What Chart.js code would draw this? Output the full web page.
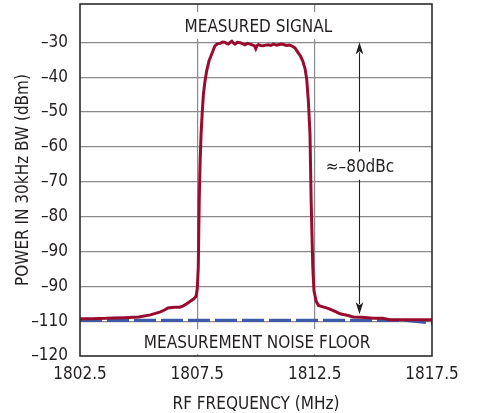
<!DOCTYPE html>
<html>
<head>
<meta charset="utf-8">
<script src="https://cdn.jsdelivr.net/npm/chart.js@4/dist/chart.umd.min.js"></script>
<style>
  html, body { margin: 0; padding: 0; background: #fff; }
  canvas { display: block; }
</style>
</head>
<body>
<canvas id="spectrum" width="477" height="413"></canvas>
<script>
// RF frequency (MHz) and measured power (dBm in 30kHz BW) of the signal
const signalFreq = [
  1802.5, 1803.0, 1803.6, 1803.9, 1804.4, 1805.0, 1805.5, 1805.9, 1806.1, 1806.25,
  1806.5, 1806.75, 1806.9, 1807.05, 1807.2, 1807.35, 1807.45, 1807.5, 1807.54, 1807.58,
  1807.62, 1807.66, 1807.71, 1807.76, 1807.83, 1807.9, 1808.0, 1808.11, 1808.25, 1808.36,
  1808.47, 1808.58, 1808.68, 1808.75, 1808.82, 1808.9, 1808.97, 1809.04, 1809.11, 1809.2,
  1809.32, 1809.42, 1809.53, 1809.64, 1809.75, 1809.86, 1809.94, 1809.99, 1810.04, 1810.1,
  1810.2, 1810.31, 1810.42, 1810.53, 1810.63, 1810.74, 1810.88, 1811.0, 1811.1, 1811.2,
  1811.31, 1811.42, 1811.52, 1811.66, 1811.8, 1811.9, 1812.0, 1812.09, 1812.16, 1812.23,
  1812.3, 1812.35, 1812.42, 1812.47, 1812.56, 1812.66, 1812.85, 1813.1, 1813.37, 1813.58,
  1813.88, 1814.15, 1814.5, 1815.0, 1815.4, 1815.7, 1816.5, 1817.5
];
const signalPower = [
  -109.3, -109.3, -109.2, -109.1, -109.0, -108.8, -108.2, -107.4, -106.8, -106.2,
  -106.0, -106.0, -105.6, -105.0, -104.3, -103.6, -102.8, -100.5, -94.5, -75.5,
  -64.0, -56.2, -50.0, -44.8, -41.0, -38.1, -35.3, -33.4, -31.0, -30.4,
  -30.3, -29.9, -30.0, -30.3, -30.5, -30.0, -29.7, -30.2, -30.5, -30.0,
  -30.1, -30.4, -30.7, -30.3, -30.5, -30.8, -31.0, -31.8, -31.0, -30.7,
  -30.9, -31.0, -30.8, -30.7, -30.9, -30.5, -30.8, -30.6, -30.5, -30.7,
  -30.9, -30.8, -31.0, -31.6, -33.0, -34.0, -35.5, -37.5, -40.5, -46.7,
  -56.2, -75.4, -94.5, -101.2, -104.2, -105.5, -105.9, -106.4, -107.2, -107.9,
  -108.3, -108.8, -108.9, -109.2, -109.2, -109.6, -109.6, -109.6
];

// Measurement noise floor of the analyzer
const floorFreq = [1802.5, 1816.4, 1817.5];
const floorPower = [-109.8, -109.8, -110.5];

// Axis ticks
const xTickValues = [1802.5, 1807.5, 1812.5, 1817.5];
const xTickLabels = ['1802.5', '1807.5', '1812.5', '1817.5'];
const yTickValues = [-120, -110, -100, -90, -80, -70, -60, -50, -40, -30];
const yTickLabels = ['–120', '–110', '–90', '–90', '–80', '–70', '–60', '–50', '–40', '–30'];

// Dynamic-range arrow: from the in-band level down to the close-in floor
const rangeArrowFreq = 1814.4;
const rangeArrowTop = -30;
const rangeArrowBottom = -108;

// Text notes placed in data units
const notes = [
  { text: 'MEASURED SIGNAL', x: 1810.1, y: -25.2, boxH: 27 },
  { text: 'MEASUREMENT NOISE FLOOR', x: 1810.05, y: -115.9, boxH: 25 },
  { text: '≈–80dBc', x: 1814.43, y: -65.4, boxH: 28 }
];

const FONT = "'DejaVu Sans Condensed', 'Liberation Sans Narrow', sans-serif";
const FONT_SIZE = 17;
const INK = '#231f20';

Chart.defaults.font.family = FONT;
Chart.defaults.font.size = FONT_SIZE;
Chart.defaults.color = INK;

const toPoints = (xs, ys) => xs.map((x, i) => ({ x, y: ys[i] }));

// Frame, arrow and text boxes drawn over the plot
const overlay = {
  id: 'overlay',
  afterDatasetsDraw(chart) {
    const { ctx, chartArea: a, scales: { x, y } } = chart;
    ctx.save();

    // plot frame
    ctx.strokeStyle = '#2b2b2b';
    ctx.lineWidth = 1.6;
    ctx.strokeRect(a.left, a.top, a.right - a.left, a.bottom - a.top);

    // double-headed arrow
    const ax = Math.round(x.getPixelForValue(rangeArrowFreq)) + 0.5;
    const ay1 = y.getPixelForValue(rangeArrowTop);
    const ay2 = y.getPixelForValue(rangeArrowBottom);
    const headL = 12, headW = 3.8;
    ctx.strokeStyle = INK;
    ctx.fillStyle = INK;
    ctx.lineWidth = 1.1;
    ctx.beginPath();
    ctx.moveTo(ax, ay1 + headL - 2);
    ctx.lineTo(ax, ay2 - headL + 2);
    ctx.stroke();
    ctx.beginPath();
    ctx.moveTo(ax, ay1);
    ctx.lineTo(ax - headW, ay1 + headL);
    ctx.lineTo(ax, ay1 + headL - 3);
    ctx.lineTo(ax + headW, ay1 + headL);
    ctx.closePath();
    ctx.fill();
    ctx.beginPath();
    ctx.moveTo(ax, ay2);
    ctx.lineTo(ax - headW, ay2 - headL);
    ctx.lineTo(ax, ay2 - headL + 3);
    ctx.lineTo(ax + headW, ay2 - headL);
    ctx.closePath();
    ctx.fill();

    // text notes on white boxes
    ctx.font = FONT_SIZE + 'px ' + FONT;
    ctx.textAlign = 'center';
    ctx.textBaseline = 'alphabetic';
    notes.forEach(n => {
      const cx = x.getPixelForValue(n.x);
      const cy = y.getPixelForValue(n.y);
      const w = ctx.measureText(n.text).width;
      ctx.fillStyle = '#ffffff';
      ctx.fillRect(cx - w / 2 - 4, cy - n.boxH / 2, w + 8, n.boxH);
      ctx.fillStyle = INK;
      ctx.fillText(n.text, cx, cy + FONT_SIZE * 0.36);
    });

    ctx.restore();
  }
};

const gridColor = (edgeValues) => (c) =>
  (c.tick && edgeValues.includes(c.tick.value)) ? 'rgba(0,0,0,0)' : '#8a8a8a';

new Chart(document.getElementById('spectrum'), {
  type: 'line',
  data: {
    datasets: [
      {
        label: 'Measured signal',
        data: toPoints(signalFreq, signalPower),
        borderColor: '#990c2f',
        borderWidth: 3,
        pointRadius: 0,
        tension: 0,
        fill: false,
        order: 0
      },
      {
        label: 'Measurement noise floor',
        data: toPoints(floorFreq, floorPower),
        borderColor: '#3f5ba8',
        borderWidth: 3.2,
        borderDash: [22, 5],
        pointRadius: 0,
        tension: 0,
        fill: false,
        order: 1
      }
    ]
  },
  options: {
    responsive: false,
    animation: false,
    events: [],
    layout: { padding: { top: 4, right: 45, left: 0, bottom: 0 } },
    plugins: { legend: { display: false }, tooltip: { enabled: false } },
    scales: {
      x: {
        type: 'linear',
        min: 1802.5,
        max: 1817.5,
        afterBuildTicks: s => { s.ticks = xTickValues.map(v => ({ value: v })); },
        afterFit: s => { s.height = 57; s.paddingLeft = 0; s.paddingRight = 0; },
        border: { display: false },
        grid: { color: gridColor([1802.5, 1817.5]), lineWidth: 1.2, drawTicks: false },
        ticks: {
          padding: 8,
          autoSkip: false,
          maxRotation: 0,
          callback: (v, i) => xTickLabels[i]
        },
        title: {
          display: true,
          text: 'RF FREQUENCY (MHz)',
          font: { size: FONT_SIZE, lineHeight: 1 },
          padding: { top: 0, bottom: 0 }
        }
      },
      y: {
        type: 'linear',
        min: -120,
        max: -19,
        afterBuildTicks: s => { s.ticks = yTickValues.map(v => ({ value: v })); },
        afterFit: s => { s.width = 80; s.paddingTop = 0; s.paddingBottom = 0; },
        border: { display: false },
        grid: { color: gridColor([-120]), lineWidth: 1.2, drawTicks: false },
        ticks: {
          padding: 12,
          autoSkip: false,
          callback: (v, i) => yTickLabels[i]
        },
        title: {
          display: true,
          text: 'POWER IN 30kHz BW (dBm)',
          font: { size: FONT_SIZE, lineHeight: 1 },
          padding: { top: 15, bottom: 0 }
        }
      }
    }
  },
  plugins: [overlay]
});
</script>
</body>
</html>
